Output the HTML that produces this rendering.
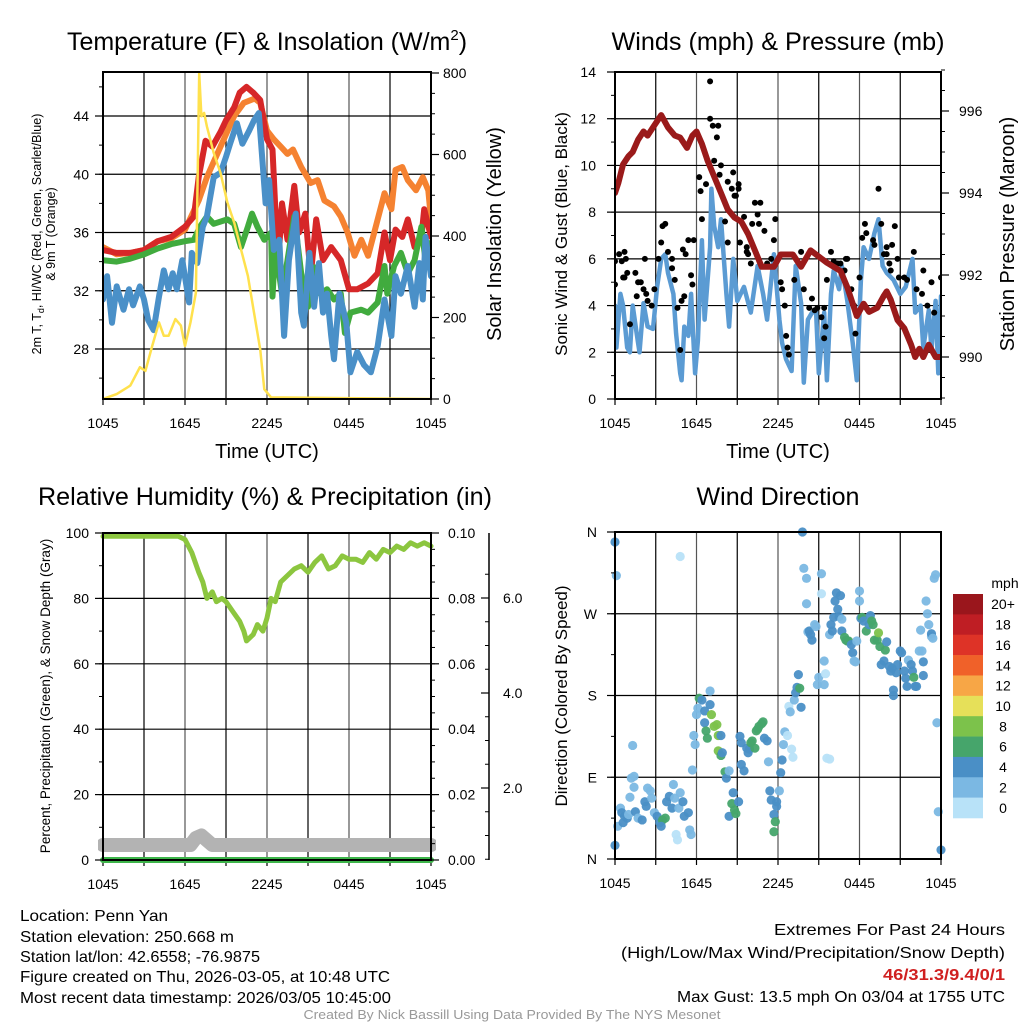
<!DOCTYPE html>
<html><head><meta charset="utf-8">
<style>
html,body{margin:0;padding:0;background:#fff;}
svg{display:block;font-family:"Liberation Sans",Arial,sans-serif;}
</style></head>
<body>
<svg id="fig" xmlns="http://www.w3.org/2000/svg" width="1024" height="1024" viewBox="0 0 1024 1024">
<rect width="1024" height="1024" fill="#fff"/>
<g font-size="25" text-anchor="middle" fill="#000">
<text x="267" y="50">Temperature (F) &amp; Insolation (W/m<tspan font-size="15" dy="-10">2</tspan><tspan dy="10">)</tspan></text>
<text x="778" y="50" textLength="333" lengthAdjust="spacingAndGlyphs">Winds (mph) &amp; Pressure (mb)</text>
<text x="265" y="505" textLength="454" lengthAdjust="spacingAndGlyphs">Relative Humidity (%) &amp; Precipitation (in)</text>
<text x="778" y="505" textLength="163" lengthAdjust="spacingAndGlyphs">Wind Direction</text>
</g>
<g id="p1"></g>
<g id="p2"></g>
<g id="p3"></g>
<g id="p4"></g>
<g fill="#000" text-anchor="middle">
<text x="267" y="458" font-size="20">Time (UTC)</text>
<text x="778" y="458" font-size="20">Time (UTC)</text>
<text font-size="12.5" transform="translate(41,234) rotate(-90)">2m T, T<tspan font-size="9" dy="3">d</tspan><tspan dy="-3">, HI/WC (Red, Green, Scarlet/Blue)</tspan></text>
<text font-size="12.5" transform="translate(55,234) rotate(-90)">&amp; 9m T (Orange)</text>
<text font-size="20" transform="translate(501,234) rotate(-90)">Solar Insolation (Yellow)</text>
<text font-size="17" transform="translate(567,234) rotate(-90)">Sonic Wind &amp; Gust (Blue, Black)</text>
<text font-size="20" transform="translate(1014,234) rotate(-90)">Station Pressure (Maroon)</text>
<text font-size="13.5" transform="translate(50,696) rotate(-90)">Percent, Precipitation (Green), &amp; Snow Depth (Gray)</text>
<text font-size="17" transform="translate(567,696) rotate(-90)">Direction (Colored By Speed)</text>
</g>
<g font-size="16" fill="#000" lengthAdjust="spacingAndGlyphs">
<text x="20" y="921" textLength="148" lengthAdjust="spacingAndGlyphs">Location: Penn Yan</text>
<text x="20" y="942" textLength="214" lengthAdjust="spacingAndGlyphs">Station elevation: 250.668 m</text>
<text x="20" y="962" textLength="240" lengthAdjust="spacingAndGlyphs">Station lat/lon: 42.6558; -76.9875</text>
<text x="20" y="982" textLength="370" lengthAdjust="spacingAndGlyphs">Figure created on Thu, 2026-03-05, at 10:48 UTC</text>
<text x="20" y="1003" textLength="371" lengthAdjust="spacingAndGlyphs">Most recent data timestamp: 2026/03/05 10:45:00</text>
</g>
<g font-size="16" fill="#000" text-anchor="end">
<text x="1005" y="935" textLength="231" lengthAdjust="spacingAndGlyphs">Extremes For Past 24 Hours</text>
<text x="1005" y="958" textLength="384" lengthAdjust="spacingAndGlyphs">(High/Low/Max Wind/Precipitation/Snow Depth)</text>
<text x="1005" y="980" fill="#d02020" font-weight="bold" textLength="122" lengthAdjust="spacingAndGlyphs">46/31.3/9.4/0/1</text>
<text x="1005" y="1002" textLength="328" lengthAdjust="spacingAndGlyphs">Max Gust: 13.5 mph On 03/04 at 1755 UTC</text>
</g>
<text x="512" y="1019" font-size="13" fill="#999" text-anchor="middle" textLength="417" lengthAdjust="spacingAndGlyphs">Created By Nick Bassill Using Data Provided By The NYS Mesonet</text>
</svg>
<script>
// ---------- Temperature panel data ----------
const redT=[0,1,2,3,4,5,6,6.65,7,7.5,8,8.6,9,9.6,10,10.5,11,11.5,12,12.4,12.6,12.9,13.1,13.5,14,14.35,14.8,15.2,15.6,16.1,16.7,17.4,18,18.6,19.4,20.1,20.6,21,21.4,21.9,22.3,22.8,23.3,23.5,24];
const redV=[34.8,34.6,34.6,34.8,35.4,35.7,36.4,37.1,39.8,42.3,41.9,42.9,43.7,44.6,45.6,46.0,45.6,45.1,42.4,41.7,37.8,35.0,38.0,35.5,39.2,36.0,37.3,33.0,36.9,34.1,35.0,34.1,32.1,32.1,32.5,33.2,36.0,34.1,36.2,35.7,36.9,35.0,35.7,37.6,35.7];
const orangeT=[0,1,2,3,4,5,6,7.0,7.6,8.6,9.6,10.3,11.1,11.5,12.0,12.5,13.0,13.5,13.9,14.5,15.2,15.7,16.2,16.9,17.4,17.9,18.4,18.9,19.4,19.9,20.6,21.1,21.4,21.9,22.3,22.9,23.4,23.8,24];
const orangeV=[35.0,34.5,34.6,34.8,35.4,35.6,36.2,38.2,39.8,41.9,44.0,44.9,45.2,44.9,43.0,42.4,41.9,41.4,41.7,40.5,39.4,39.6,38.2,37.8,37.1,36.0,34.4,35.5,34.4,36.2,38.7,37.6,40.3,40.5,39.6,38.9,39.8,38.9,36.9];
const greenT=[0,1,2,3,4,5,6,6.65,7.1,7.6,8.1,9.1,9.6,10.1,10.6,10.9,11.3,11.8,12.3,12.4,12.6,13.1,13.5,14.0,14.5,15.0,15.5,15.9,16.4,16.9,17.4,17.7,18.1,18.9,19.4,20.1,20.6,20.8,21.3,21.8,22.3,22.8,23.3,23.6,24];
const greenV=[34.1,34.0,34.2,34.5,34.9,35.2,35.4,35.5,36.4,37.1,36.6,36.9,36.6,35.0,36.4,37.3,36.4,35.5,36.0,31.6,35.0,31.8,34.1,37.1,33.2,30.9,33.6,31.8,32.1,31.4,31.8,29.1,30.5,30.7,30.5,31.2,33.7,31.8,33.7,34.6,33.2,34.1,36.4,34.1,35.3];
const blueT=[0,0.3,0.66,1.0,1.5,1.9,2.2,2.7,3.0,3.3,3.7,4.1,4.45,4.8,5.1,5.4,5.8,6.3,6.5,6.9,7.3,7.6,8.1,8.6,9.0,9.3,9.8,10.2,10.7,11.05,11.4,11.7,11.9,12.15,12.5,12.9,13.25,13.6,14.1,14.5,14.7,15.1,15.45,15.8,16.1,16.4,16.7,16.9,17.3,17.8,18.1,18.6,19.1,19.6,20.1,20.6,21.1,21.4,21.8,22.3,22.8,23.15,23.4,23.6,24];
const blueV=[31.4,33.0,29.8,32.3,30.7,32.1,31.0,32.3,31.4,30.0,29.3,31.6,33.4,32.1,33.2,32.1,34.1,31.2,34.6,33.9,36.4,37.1,39.8,40.1,41.2,42.1,43.5,42.1,43.0,43.7,44.2,40.5,38.0,39.6,34.8,35.5,28.9,34.1,37.3,30.5,29.6,34.6,30.9,33.9,30.5,31.8,28.9,27.3,31.8,29.8,26.4,27.8,26.9,26.4,28.2,31.4,28.9,33.0,31.8,33.7,30.9,33.9,31.4,35.7,33.0];
const solarT=[0,1.0,2.0,2.7,3.1,3.6,4.1,4.45,4.8,5.3,5.7,6.0,6.4,6.8,7.04,7.2,7.4,7.6,8.1,8.6,9.1,9.6,10.1,10.6,11.05,11.5,11.8,12.3,24];
const solarV=[0,12,33,78,69,130,188,155,155,196,180,130,188,261,800,694,702,669,604,555,482,433,367,302,212,122,24,4,0];
const tempTicks=[28,32,36,40,44];
const solarTicks=[0,200,400,600,800];
const timeLabels=["1045","1645","2245","0445","1045"];
// ---------- Winds panel data ----------
const windT=[0,0.1,0.4,0.6,0.9,1.1,1.3,1.6,1.8,2.1,2.4,2.8,3.1,3.4,3.7,3.9,4.3,4.5,4.8,4.9,5.1,5.4,5.6,5.9,6.1,6.4,6.6,7.0,7.1,7.3,7.6,7.8,8.2,8.4,8.7,9.0,9.5,10.0,10.5,10.9,11.2,11.7,12.1,12.3,12.6,13.0,13.3,13.7,13.9,14.2,14.5,14.8,15.0,15.4,15.6,15.9,16.1,16.5,16.7,17.1,17.5,17.8,18.1,18.3,18.7,19.1,19.4,19.7,20.0,20.5,21.0,21.4,21.9,22.1,22.5,22.7,23.1,23.3,23.6,23.8,24.0];
const windV=[4.0,2.2,4.5,4.0,2.2,2.0,4.0,2.8,2.0,4.1,3.1,3.0,4.8,6.0,6.2,5.4,4.5,2.8,1.1,0.8,3.1,2.7,4.5,1.1,2.5,6.8,3.4,6.5,9.0,7.4,6.5,7.7,4.5,3.1,6.0,4.2,4.8,3.7,5.7,4.5,3.4,6.2,3.4,2.4,1.7,1.2,5.7,4.1,0.7,3.4,3.7,3.8,1.1,3.7,0.8,4.5,5.5,4.7,5.7,4.2,2.4,0.8,5.1,6.5,6.0,7.1,7.7,5.7,5.4,5.1,4.5,4.8,6.0,3.7,4.0,2.2,3.8,2.1,4.2,1.1,4.4];
const gustT=[0.0,0.0,0.3,0.7,0.5,0.8,0.6,0.9,0.7,1.5,1.7,1.9,2.1,2.2,2.3,2.4,2.7,1.6,1.1,2.9,3.2,3.4,3.5,3.7,3.9,4.2,4.2,4.4,4.6,4.8,4.9,5.1,5.0,5.2,5.4,5.8,5.6,5.7,6.2,6.3,6.4,6.7,7.0,7.0,7.2,7.5,7.6,7.3,7.7,7.8,8.1,8.3,8.3,8.6,8.7,8.8,8.9,9.1,9.1,9.2,9.5,9.7,9.7,9.8,10.0,10.1,10.3,10.5,10.6,10.7,11.0,11.2,11.5,11.7,11.8,12.2,12.3,12.5,12.6,12.7,12.8,13.2,13.7,13.9,14.3,14.5,14.7,14.9,15.2,15.4,15.5,15.4,15.6,15.9,16.1,16.4,16.6,17.0,17.1,17.4,17.7,18.0,18.2,18.4,18.5,19.0,19.1,19.4,19.6,19.8,20.0,20.2,20.4,20.6,20.3,20.8,20.9,21.3,21.5,22.0,22.2,22.6,22.7,23.3,24.0,23.0,23.5,20.0,16.9,17.6];
const gustV=[4.9,5.9,6.2,6.3,5.9,6.0,5.2,5.4,5.2,5.4,5.0,5.0,4.7,6.0,4.5,4.2,4.0,4.4,3.2,4.7,6.0,6.7,7.4,7.5,6.3,6.0,5.6,5.1,3.9,2.1,4.2,4.4,6.4,6.2,6.8,6.8,5.3,4.9,9.5,8.9,7.7,9.2,13.6,12.0,11.7,11.2,11.7,10.2,9.6,10.0,7.6,6.7,9.3,9.0,9.7,8.7,8.7,9.0,9.2,6.7,7.8,6.5,6.3,6.2,5.8,7.5,8.4,7.9,7.5,8.4,7.2,5.8,6.0,6.8,7.7,5.0,4.7,4.0,2.7,2.2,1.9,5.1,6.3,4.7,3.9,4.3,3.8,3.9,3.5,3.9,3.1,2.6,5.1,6.3,5.9,5.8,5.8,6.0,6.0,4.7,2.8,5.2,6.9,7.5,7.1,6.8,6.6,9.0,7.5,6.2,6.5,5.8,6.6,7.4,5.5,6.0,5.2,5.2,5.1,6.3,4.7,4.5,5.5,5.0,5.2,4.0,3.7,6.2,5.5,4.0];
const presT=[0,0.25,0.6,1.0,1.3,1.7,2.1,2.4,2.8,3.4,3.9,4.4,4.8,5.3,5.7,6.0,6.4,6.8,7.3,7.8,8.3,8.8,9.3,9.8,10.3,10.8,11.2,11.7,12.2,12.6,13.1,13.7,14.4,15.2,15.6,16.1,16.6,17.1,17.6,17.8,18.3,18.7,19.3,19.8,20.0,20.3,20.8,21.3,21.8,22.1,22.4,22.7,23.1,23.6,24.0];
const presV=[994.0,994.25,994.7,994.9,995.0,995.3,995.5,995.4,995.6,995.9,995.6,995.4,995.35,995.1,995.4,995.5,995.2,994.8,994.4,994.0,993.6,993.4,993.3,993.0,992.6,992.2,992.2,992.2,992.5,992.5,992.5,992.2,992.6,992.4,992.3,992.2,992.1,991.7,991.2,991.0,991.3,991.1,991.2,991.5,991.6,991.4,990.9,990.7,990.3,990.0,990.2,990.0,990.3,990.0,990.0];
const windTicks=[0,2,4,6,8,10,12,14];
const presTicks=[990,992,994,996];
// ---------- Humidity panel data ----------
const rhT=[0,2,4,5.5,6,6.5,7,7.3,7.6,8,8.3,8.7,9,9.5,10,10.3,10.5,11,11.3,11.7,12,12.3,12.6,13,13.5,14,14.5,15,15.5,16,16.5,17,17.5,18,18.5,19,19.5,20,20.5,21,21.5,22,22.5,23,23.5,24];
const rhV=[99,99,99,99,98,94,88,85,80,82,79,80,79,76,73,70,67,69,72,70,74,80,79,85,87,89,90,88,91,93,89,90,93,92,92,91,94,92,95,94,96,95,97,96,97,96];
const snowT=[0,6.4,6.8,7.2,7.6,8.0,24];
const snowV=[0.8,0.8,0.95,1.0,0.9,0.8,0.8];
const precipT=[0,24];
const precipV=[0,0];
const pctTicks=[0,20,40,60,80,100];
const precipTicks=["0.00","0.02","0.04","0.06","0.08","0.10"];
const snowTicks=["2.0","4.0","6.0"];
// ---------- Wind direction data ----------
const dirT=[0.0,0.1,0.0,4.8,1.3,1.2,1.4,1.1,1.4,0.4,0.5,0.7,0.2,0.6,0.9,1.0,1.5,1.7,2.0,2.2,2.3,2.4,2.6,2.7,2.9,3.1,3.3,3.5,3.7,3.4,3.8,4.0,4.2,4.3,4.4,4.7,4.8,5.0,5.1,5.4,5.5,5.6,4.5,4.6,5.7,5.8,5.9,6.0,6.1,6.2,6.4,6.6,6.6,6.7,6.8,7.0,7.0,7.1,7.3,7.5,7.6,7.6,7.8,7.9,7.8,8.1,8.2,8.4,8.4,8.6,8.7,8.8,8.9,9.1,9.2,9.3,9.3,9.5,9.7,9.8,9.9,10.0,10.1,10.3,10.4,10.5,10.6,10.8,10.9,11.0,11.2,11.3,11.4,11.5,11.9,11.9,11.7,11.8,11.7,12.1,12.2,12.3,12.4,12.5,12.7,12.8,12.9,13.0,13.1,13.2,13.3,13.4,13.5,13.6,13.7,13.8,13.9,14.1,14.1,14.2,14.3,14.4,14.5,14.7,14.8,14.9,15.0,15.2,15.2,15.4,15.4,15.5,15.6,15.8,15.8,15.9,16.0,16.1,16.2,16.3,16.4,16.5,16.6,16.7,16.7,16.9,17.0,17.1,17.2,17.4,17.5,17.6,17.7,17.8,18.0,18.0,18.1,18.2,18.3,18.5,18.7,18.8,18.9,19.0,19.1,19.3,19.4,19.5,19.6,19.8,19.9,20.0,20.2,20.3,20.4,20.5,20.5,20.7,20.8,21.0,21.1,21.3,21.4,21.5,21.6,21.8,21.9,22.0,22.1,22.2,22.4,22.5,22.6,22.7,22.7,22.9,23.0,23.1,23.3,23.3,23.4,23.5,23.6,23.7,23.8,24.0];
const dirV=[349,312,15,333,125,89,91,68,79,56,51,47,36,40,45,49,52,45,43,63,58,78,75,67,51,47,40,43,45,36,63,69,56,82,67,56,73,63,47,51,32,27,27,21,98,136,126,159,166,177,175,163,150,141,133,185,170,159,146,148,136,119,114,117,136,96,89,97,47,61,73,54,50,63,135,104,128,97,122,117,121,128,130,122,141,143,146,149,151,133,130,107,75,65,63,58,49,41,30,75,95,109,126,140,136,168,162,121,112,175,183,189,203,188,167,360,320,309,281,250,251,247,241,258,256,192,200,314,292,192,218,204,111,110,247,258,251,266,284,293,275,267,290,264,251,244,241,240,240,236,227,218,217,240,295,284,265,266,262,251,258,268,262,258,241,241,249,234,214,218,230,239,212,207,210,186,180,205,214,229,227,207,199,190,219,214,207,200,190,190,229,252,229,217,202,284,270,258,245,248,243,309,313,150,52,10];
const dirSpd=[5,3,5,1,3,3,3,3,3,3,5,5,3,5,5,3,5,3,5,5,5,3,3,3,3,5,5,7,7,5,5,5,5,3,3,3,3,5,5,5,3,3,1,1,3,3,3,3,3,7,5,5,5,7,7,3,5,9,9,9,9,9,7,5,5,7,5,3,5,7,5,7,7,5,5,5,5,5,5,5,5,7,7,7,7,7,7,7,7,5,5,3,5,5,5,5,5,7,7,3,5,5,3,3,1,1,3,1,1,3,5,5,5,7,5,5,3,3,3,3,5,5,5,3,3,3,3,3,1,3,3,1,1,1,3,5,5,5,5,5,5,5,5,3,5,7,7,7,7,5,5,3,3,3,3,3,5,7,5,7,5,5,7,7,7,7,9,7,5,5,7,5,5,5,5,5,5,5,5,5,5,5,5,5,3,5,5,7,5,5,3,3,3,5,5,3,3,3,3,5,3,3,3,3,3,5];
const dirLabels=["N","E","S","W","N"];
const cbLabels=["20+","18","16","14","12","10","8","6","4","2","0"];
const cbColors=["#9a161c","#bf1e24","#de3327","#f06129","#f7a646","#e6e059","#7cc24b","#46a56b","#4a8fc6","#7bb8e3","#b8e2f8"];

const NS="http://www.w3.org/2000/svg";
function mk(parent,tag,attrs){const e=document.createElementNS(NS,tag);for(const k in attrs)e.setAttribute(k,attrs[k]);parent.appendChild(e);return e;}
function lin(d0,d1,r0,r1){return v=>r0+(v-d0)*(r1-r0)/(d1-d0);}
function pathFrom(xs,ys,fx,fy){return xs.map((t,i)=>(i?'L':'M')+fx(t).toFixed(1)+','+fy(ys[i]).toFixed(1)).join('');}

function frame(g,L,R,T,B,fx){
  for(let h=3;h<24;h+=3){
    const gl=mk(g,'line',{x1:fx(h),x2:fx(h),y1:T,y2:B,stroke:(h%6==0)?'#555':'#000','stroke-width':1.2});
    
    
  }
  for(let h=0;h<=24;h+=3){
    const tk=mk(g,'line',{x1:fx(h),x2:fx(h),y1:B,y2:B+6,stroke:'#000','stroke-width':1.2});
    
    
  }
  timeLabels.forEach((s,i)=>{
    const t=mk(g,'text',{x:fx(i*6),y:B+29,'font-size':14,'text-anchor':'middle'});
    t.textContent=s;
    
    
  });
}
function hgrid(g,L,R,ticks,fy){
  ticks.forEach((v)=>{
    const gl=mk(g,'line',{x1:L,x2:R,y1:fy(v),y2:fy(v),stroke:'#000','stroke-width':1.2});
    
    
  });
}
function yaxis(g,xPos,ticks,labels,fy,minorStep,lo,hi,dir,labX,anchor){
  for(let v=lo;v<=hi+1e-9;v+=minorStep){
    const tk=mk(g,'line',{x1:xPos,x2:xPos+dir*4,y1:fy(v),y2:fy(v),stroke:'#000','stroke-width':1});
    
    
  }
  ticks.forEach((v,i)=>{
    const tk=mk(g,'line',{x1:xPos,x2:xPos+dir*8,y1:fy(v),y2:fy(v),stroke:'#000','stroke-width':1.2});
    
    
    const t=mk(g,'text',{x:labX,y:fy(v)+5,'font-size':14,'text-anchor':anchor});
    t.textContent=labels[i];
    
    
  });
}
function box(g,L,R,T,B){
  const r=mk(g,'rect',{x:L,y:T,width:R-L,height:B-T,fill:'none',stroke:'#000','stroke-width':2});
  
  
}
function line(g,xs,ys,fx,fy,color,w,name){
  const p=mk(g,'path',{d:pathFrom(xs,ys,fx,fy),fill:'none',stroke:color,'stroke-width':w,'stroke-linejoin':'round','stroke-linecap':'round'});
  
  
}

(function(){
  const g=document.getElementById('p1');const L=103,R=431,T=72,B=399;
  const fx=lin(0,24,L,R), fy=lin(28,44,349,116), fs=lin(0,800,B,73);
  frame(g,L,R,T,B,fx);
  hgrid(g,L,R,tempTicks,fy);
  const cp=mk(g,'clipPath',{id:'c1'});mk(cp,'rect',{x:L,y:T,width:R-L,height:B-T});
  const cg=mk(g,'g',{'clip-path':'url(#c1)'});
  line(cg,orangeT,orangeV,fx,fy,'#f58231',6,'temp-9m-orange-line');
  line(cg,redT,redV,fx,fy,'#d62728',6,'temp-2m-red-line');
  line(cg,greenT,greenV,fx,fy,'#41ab3e',6,'dewpoint-green-line');
  line(cg,blueT,blueV,fx,fy,'#4a90c8',6,'windchill-blue-line');
  line(cg,solarT,solarV,fx,fs,'#ffe14d',2.5,'solar-yellow-line');
  box(g,L,R,T,B);
  yaxis(g,L,tempTicks,tempTicks.map(String),fy,2,26,46,-1,89,'end');
  yaxis(g,R,solarTicks,solarTicks.map(String),fs,50,0,800,1,443,'start');
})();
(function(){
  const g=document.getElementById('p2');const L=615,R=941,T=72,B=399;
  const fx=lin(0,24,L,R), fy=lin(0,14,B,72), fp=lin(990,996,357,111);
  frame(g,L,R,T,B,fx);
  hgrid(g,L,R,windTicks,fy);
  const cp=mk(g,'clipPath',{id:'c2'});mk(cp,'rect',{x:L,y:T,width:R-L,height:B-T});
  const cg=mk(g,'g',{'clip-path':'url(#c2)'});
  line(cg,windT,windV,fx,fy,'#5b9bd3',4.5,'sonic-wind-blue-line');
  gustT.forEach((t,i)=>{
    const c=mk(cg,'circle',{cx:fx(t),cy:fy(gustV[i]),r:3,fill:'#000'});
    
    
  });
  line(cg,presT,presV,fx,fp,'#9a1a1a',6,'pressure-maroon-line');
  box(g,L,R,T,B);
  yaxis(g,L,windTicks,windTicks.map(String),fy,1,0,14,-1,596,'end');
  yaxis(g,R,presTicks,presTicks.map(String),fp,0.5,989,997,1,959,'start');
})();
(function(){
  const g=document.getElementById('p3');const L=103,R=431,T=533,B=860;
  const fx=lin(0,24,L,R), fy=lin(0,100,B,T), fpc=lin(0,0.1,B,T), fsn=lin(0,2,883,788);
  frame(g,L,R,T,B,fx);
  hgrid(g,L,R,pctTicks,fy);
  const cp=mk(g,'clipPath',{id:'c3'});mk(cp,'rect',{x:L-5,y:T,width:R-L+10,height:B-T+10});
  const cg=mk(g,'g',{'clip-path':'url(#c3)'});
  line(cg,snowT,snowV,fx,fsn,'#b3b3b3',14,'snow-depth-gray-line');
  line(cg,precipT,precipV,fx,fpc,'#3db54a',6,'precipitation-green-line');
  line(cg,rhT,rhV,fx,fy,'#8cc63f',5,'relative-humidity-line');
  box(g,L,R,T,B);
  yaxis(g,L,pctTicks,pctTicks.map(String),fy,10,0,100,-1,89,'end');
  yaxis(g,R,[0,0.02,0.04,0.06,0.08,0.1],precipTicks,fpc,0.005,0,0.1,1,448,'start');
  const ax=mk(g,'line',{x1:489,x2:489,y1:533,y2:860,stroke:'#000','stroke-width':1.5});
  
  
  yaxis(g,489,[2,4,6],snowTicks,fsn,0.5,0.5,6.5,-1,503,'start');
})();
(function(){
  const g=document.getElementById('p4');const L=615,R=941,T=532,B=859;
  const fx=lin(0,24,L,R), fy=lin(0,360,B,T);
  frame(g,L,R,T,B,fx);
  hgrid(g,L,R,[90,180,270],fy);
  const cp=mk(g,'clipPath',{id:'c4'});mk(cp,'rect',{x:L-6,y:T-6,width:R-L+12,height:B-T+12});
  const cg=mk(g,'g',{'clip-path':'url(#c4)'});
  dirT.forEach((t,i)=>{
    const s=dirSpd[i];const idx=Math.min(10,10-Math.floor(s/2));
    const c=mk(cg,'circle',{cx:fx(t),cy:fy(dirV[i]),r:4.6,fill:cbColors[idx],opacity:0.95});
    
    
  });
  box(g,L,R,T,B);
  yaxis(g,L,[0,90,180,270,360],dirLabels,fy,45,0,360,-1,597,'end');
  const cb=mk(g,'g',{});
  
  
  const h=224/cbColors.length;
  cbColors.forEach((c,i)=>{
    const r=mk(cb,'rect',{x:953,y:594+i*h,width:30,height:h+0.3,fill:c});
    
    
    const t=mk(cb,'text',{x:1003,y:594+i*h+h/2+5,'font-size':14,'text-anchor':'middle'});
    t.textContent=cbLabels[i];
    
    
  });
  const u=mk(cb,'text',{x:1005,y:588,'font-size':14,'text-anchor':'middle'});
  u.textContent='mph';
  
  
})();
</script>
</body></html>
